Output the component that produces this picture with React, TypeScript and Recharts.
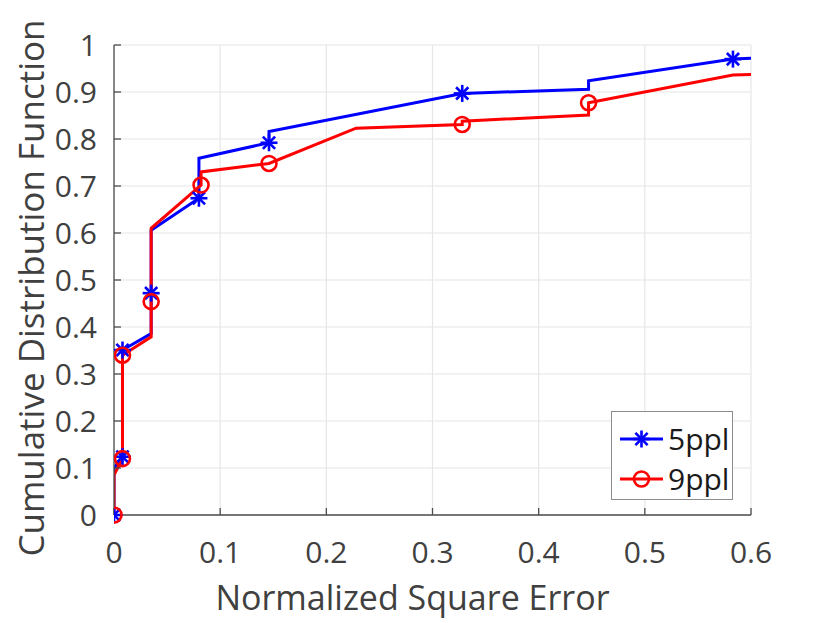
import React from "react"
import {
  CartesianGrid,
  Legend,
  Line,
  LineChart,
  XAxis,
  YAxis,
  Label,
} from "recharts"

// 5ppl (blue, star markers)
const blueX = [0, 0, 0.008, 0.008, 0.035, 0.035, 0.035, 0.08, 0.08, 0.146, 0.146, 0.328, 0.447, 0.447, 0.583, 0.6]
const blueY = [0, 0.1, 0.124, 0.351, 0.386, 0.472, 0.606, 0.674, 0.759, 0.792, 0.816, 0.897, 0.906, 0.924, 0.97, 0.972]
const blueMark = [1, 0, 1, 1, 0, 1, 0, 1, 0, 1, 0, 1, 0, 0, 1, 0]

// 9ppl (red, circle markers)
const redX = [0, 0, 0.008, 0.008, 0.035, 0.035, 0.035, 0.082, 0.082, 0.146, 0.228, 0.328, 0.328, 0.447, 0.447, 0.583, 0.6]
const redY = [0, 0.085, 0.12, 0.34, 0.379, 0.454, 0.61, 0.702, 0.73, 0.748, 0.823, 0.831, 0.838, 0.851, 0.877, 0.936, 0.937]
const redMark = [1, 0, 1, 1, 0, 1, 0, 1, 0, 1, 0, 1, 0, 0, 1, 0, 0]

const xTicks = [0, 0.1, 0.2, 0.3, 0.4, 0.5, 0.6]
const yTicks = [0, 0.1, 0.2, 0.3, 0.4, 0.5, 0.6, 0.7, 0.8, 0.9, 1]

const BLUE = "#0000ff"
const RED = "#ff0000"
const AXIS = "#4d4d4d"
const TEXT = "#404040"
const FONT = "'Open Sans', sans-serif"

const blueData = blueX.map((x, i) => ({ x, y: blueY[i], mark: blueMark[i] === 1 }))
const redData = redX.map((x, i) => ({ x, y: redY[i], mark: redMark[i] === 1 }))

function Star({ cx, cy, r = 8.5, color }: { cx: number; cy: number; r?: number; color: string }) {
  const d = r * 0.72
  return (
    <g stroke={color} strokeWidth={2.6} strokeLinecap="butt">
      <line x1={cx - r} y1={cy} x2={cx + r} y2={cy} />
      <line x1={cx} y1={cy - r} x2={cx} y2={cy + r} />
      <line x1={cx - d} y1={cy - d} x2={cx + d} y2={cy + d} />
      <line x1={cx - d} y1={cy + d} x2={cx + d} y2={cy - d} />
    </g>
  )
}

function Ring({ cx, cy, color }: { cx: number; cy: number; color: string }) {
  return <circle cx={cx} cy={cy} r={7.5} fill="none" stroke={color} strokeWidth={2.6} />
}

const starDot = (props: any) => {
  const { cx, cy, payload, index } = props
  if (!payload?.mark) return <g key={`s${index}`} />
  return <Star key={`s${index}`} cx={cx} cy={cy} color={BLUE} />
}

const ringDot = (props: any) => {
  const { cx, cy, payload, index } = props
  if (!payload?.mark) return <g key={`c${index}`} />
  return <Ring key={`c${index}`} cx={cx} cy={cy} color={RED} />
}

function LegendBox() {
  const rows = [
    { name: "5ppl", color: BLUE, kind: "star" },
    { name: "9ppl", color: RED, kind: "ring" },
  ]
  return (
    <div
      style={{
        width: 122,
        height: 89,
        border: "1px solid #8c8c8c",
        background: "#fff",
        boxSizing: "border-box",
      }}
    >
      <svg width={120} height={87}>
        {rows.map((r, i) => {
          const cy = 27 + i * 40
          return (
            <g key={r.name}>
              <line x1={8} x2={51} y1={cy} y2={cy} stroke={r.color} strokeWidth={3} />
              {r.kind === "star" ? <Star cx={29.5} cy={cy} color={r.color} /> : <Ring cx={29.5} cy={cy} color={r.color} />}
              <text x={56} y={cy + 11} fontFamily={FONT} fontSize={30} fill="#1a1a1a">
                {r.name}
              </text>
            </g>
          )
        })}
      </svg>
    </div>
  )
}

export default function App() {
  return (
    <div style={{ position: "absolute", left: 0, top: 0, width: 830, height: 623, background: "#fff" }}>
      <LineChart width={830} height={623} margin={{ top: 45, right: 79, bottom: 8, left: 14 }}>
        <CartesianGrid stroke="#e6e6e6" strokeWidth={1.2} />
        <XAxis
          dataKey="x"
          type="number"
          domain={[0, 0.6]}
          ticks={xTicks}
          allowDataOverflow
          height={100}
          stroke={AXIS}
          strokeWidth={1.3}
          tickSize={-7}
          tickMargin={34}
          tick={{ fontSize: 30, fill: TEXT, fontFamily: FONT }}
        >
          <Label
            content={(p: any) => {
              const vb = p.viewBox
              return (
                <text x={vb.x + vb.width / 2 - 20} y={610} textAnchor="middle" fontFamily={FONT} fontSize={34} fill={TEXT}>
                  Normalized Square Error
                </text>
              )
            }}
          />
        </XAxis>
        <XAxis
          xAxisId="top"
          orientation="top"
          dataKey="x"
          type="number"
          domain={[0, 0.6]}
          ticks={xTicks}
          height={0}
          stroke={AXIS}
          strokeWidth={1.3}
          tickSize={-7}
          tick={false}
        />
        <YAxis
          type="number"
          domain={[0, 1]}
          ticks={yTicks}
          width={100}
          stroke={AXIS}
          strokeWidth={1.3}
          tickSize={-7}
          tickMargin={24}
          tick={{ fontSize: 30, fill: TEXT, fontFamily: FONT }}
        >
          <Label
            content={(p: any) => {
              const vb = p.viewBox
              const cy = vb.y + vb.height / 2 + 8
              return (
                <text
                  x={44}
                  y={cy}
                  transform={`rotate(-90 44 ${cy})`}
                  textAnchor="middle"
                  fontFamily={FONT}
                  fontSize={35}
                  fill={TEXT}
                >
                  Cumulative Distribution Function
                </text>
              )
            }}
          />
        </YAxis>
        <YAxis
          yAxisId="right"
          orientation="right"
          type="number"
          domain={[0, 1]}
          ticks={yTicks}
          width={0}
          stroke={AXIS}
          strokeWidth={1.3}
          tickSize={-7}
          tick={false}
        />
        <Line
          data={blueData}
          dataKey="y"
          type="linear"
          stroke={BLUE}
          strokeWidth={3}
          dot={starDot}
          activeDot={false}
          isAnimationActive={false}
        />
        <Line
          data={redData}
          dataKey="y"
          type="linear"
          stroke={RED}
          strokeWidth={3}
          dot={ringDot}
          activeDot={false}
          isAnimationActive={false}
        />
        <Legend
          layout="vertical"
          align="center"
          verticalAlign="middle"
          content={() => <LegendBox />}
          wrapperStyle={{ position: "absolute", left: 611, top: 411, width: 122, height: 89 }}
        />
      </LineChart>
    </div>
  )
}
